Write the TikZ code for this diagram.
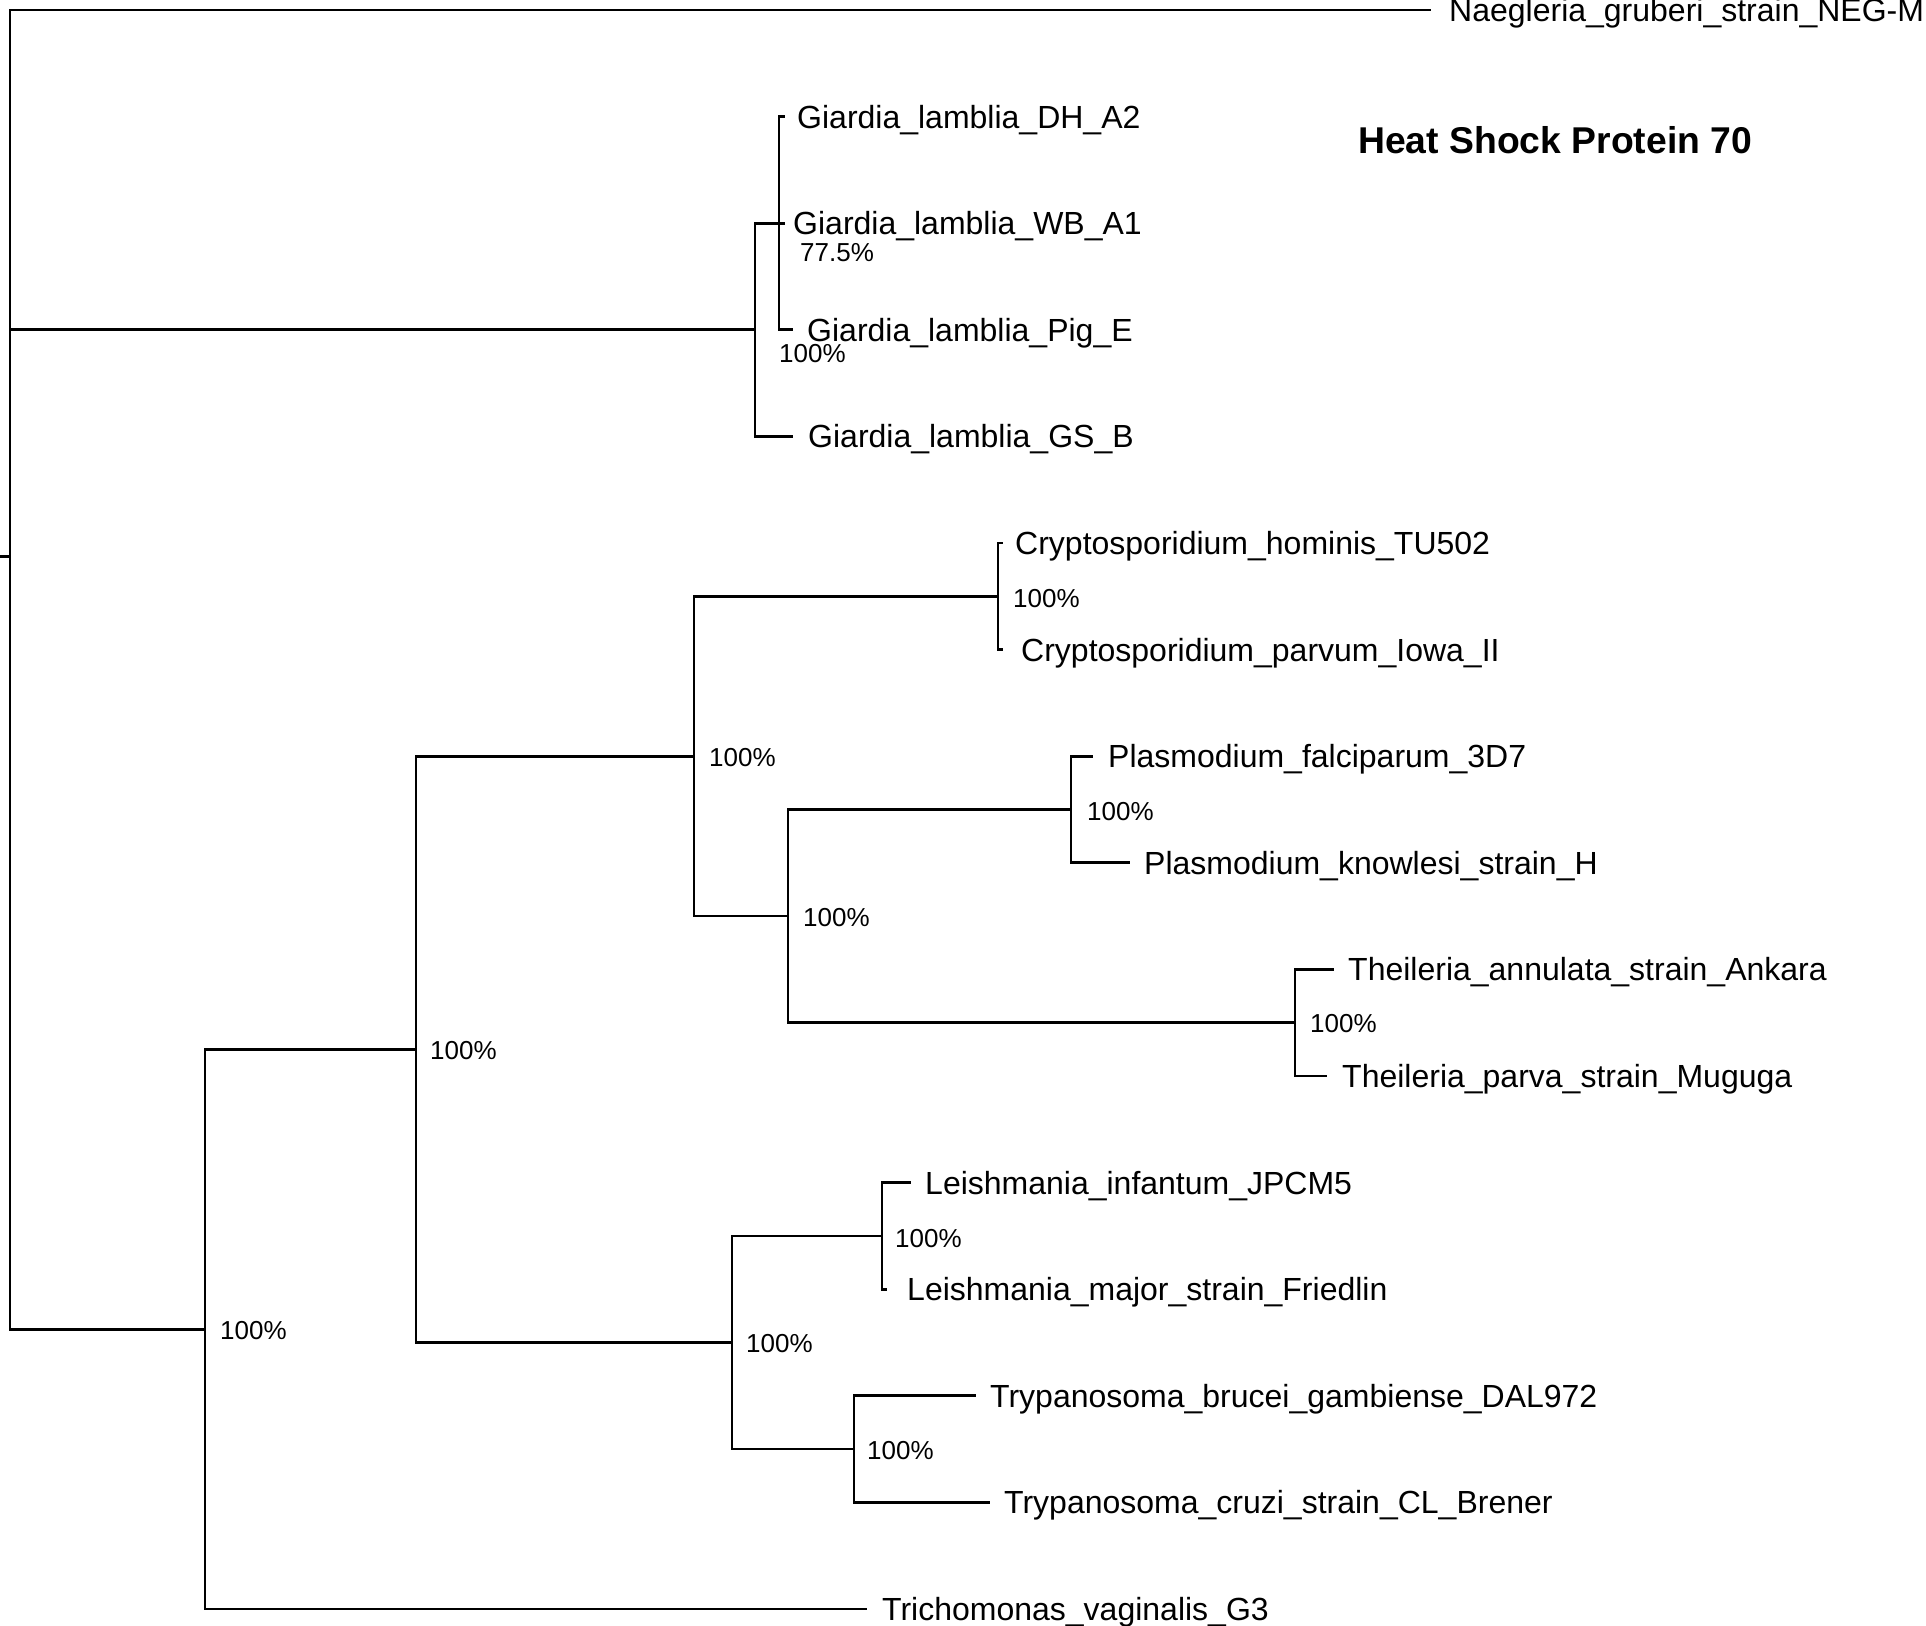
\documentclass[tikz,border=0pt]{standalone}
\usepackage{fontspec}
\setmainfont{Liberation Sans}
\begin{document}
\begin{tikzpicture}[x=1pt,y=-1pt,
  br/.style={line width=2.7pt, line join=miter, black},
  leaf/.style={anchor=base west, inner sep=0pt, font=\fontsize{32}{36}\selectfont, yshift=-11.4pt},
  boot/.style={anchor=base west, inner sep=0pt, font=\fontsize{26}{30}\selectfont, yshift=-9.3pt},
  ttl/.style={anchor=base west, inner sep=0pt, font=\fontsize{37.3}{42}\selectfont\bfseries, yshift=-13.3pt}]
\useasboundingbox (0,0) rectangle (1926,1625);
\clip (0,0) rectangle (1926,1625);
% internal nodes
\coordinate (rootstub) at (0,556.3);
\coordinate (root) at (10,556.3);
\coordinate (gia) at (755,329.8);
\coordinate (giaA) at (779,223.2);
\coordinate (low) at (205,1329.2);
\coordinate (alvkin) at (416,1049.4);
\coordinate (api) at (694,756.3);
\coordinate (cry) at (998,596.3);
\coordinate (pt) at (788,916.1);
\coordinate (pla) at (1071,809.5);
\coordinate (the) at (1295,1022.7);
\coordinate (kin) at (732,1342.5);
\coordinate (lei) at (882,1235.9);
\coordinate (try) at (854,1449.1);
% tips
\coordinate (tNae) at (1431,10);
\coordinate (tDH) at (785,116.6);
\coordinate (tWB) at (785,223.2);
\coordinate (tPig) at (793,329.8);
\coordinate (tGS) at (793,436.4);
\coordinate (tHom) at (1003,543);
\coordinate (tPar) at (1003,649.6);
\coordinate (tFal) at (1093,756.2);
\coordinate (tKno) at (1130,862.8);
\coordinate (tAnn) at (1334,969.4);
\coordinate (tPva) at (1327,1076);
\coordinate (tInf) at (911,1182.6);
\coordinate (tMaj) at (887,1289.2);
\coordinate (tBru) at (976,1395.8);
\coordinate (tCru) at (990,1502.4);
\coordinate (tTri) at (867,1609);
% leaf labels
\node[leaf] (lNae) at (1449,10) {Naegleria\_gruberi\_strain\_NEG-M};
\node[leaf] (lDH) at (797,116.6) {Giardia\_lamblia\_DH\_A2};
\node[leaf] (lWB) at (793,223.2) {Giardia\_lamblia\_WB\_A1};
\node[leaf] (lPig) at (807,329.8) {Giardia\_lamblia\_Pig\_E};
\node[leaf] (lGS) at (808,436.4) {Giardia\_lamblia\_GS\_B};
\node[leaf] (lHom) at (1015,543) {Cryptosporidium\_hominis\_TU502};
\node[leaf] (lPar) at (1021,649.6) {Cryptosporidium\_parvum\_Iowa\_II};
\node[leaf] (lFal) at (1108,756.2) {Plasmodium\_falciparum\_3D7};
\node[leaf] (lKno) at (1144,862.8) {Plasmodium\_knowlesi\_strain\_H};
\node[leaf] (lAnn) at (1348,969.4) {Theileria\_annulata\_strain\_Ankara};
\node[leaf] (lPva) at (1342,1076) {Theileria\_parva\_strain\_Muguga};
\node[leaf] (lInf) at (925,1182.6) {Leishmania\_infantum\_JPCM5};
\node[leaf] (lMaj) at (907,1289.2) {Leishmania\_major\_strain\_Friedlin};
\node[leaf] (lBru) at (990,1395.8) {Trypanosoma\_brucei\_gambiense\_DAL972};
\node[leaf] (lCru) at (1004,1502.4) {Trypanosoma\_cruzi\_strain\_CL\_Brener};
\node[leaf] (lTri) at (882,1609) {Trichomonas\_vaginalis\_G3};
% bootstrap labels
\node[boot] (bWB) at (800,252) {77.5\%};
\node[boot] (bGia) at (779,353) {100\%};
\node[boot] (bCry) at (1013,598) {100\%};
\node[boot] (bApi) at (709,757) {100\%};
\node[boot] (bPla) at (1087,811) {100\%};
\node[boot] (bPT) at (803,917) {100\%};
\node[boot] (bThe) at (1310,1023) {100\%};
\node[boot] (bAK) at (430,1050) {100\%};
\node[boot] (bLei) at (895,1238) {100\%};
\node[boot] (bKin) at (746,1343) {100\%};
\node[boot] (bTry) at (867,1450) {100\%};
\node[boot] (bLow) at (220,1330) {100\%};
% title
\node[ttl] (title) at (1358,140) {Heat Shock Protein 70};
% branches
\draw[br] (rootstub) -- (root);
\draw[br] (root) |- (tNae);
\draw[br] (root) |- (gia);
\draw[br] (root) |- (low);
\draw[br] (gia) |- (giaA);
\draw[br] (gia) |- (tGS);
\draw[br] (giaA) |- (tDH);
\draw[br] (giaA) -- (tWB);
\draw[br] (giaA) |- (tPig);
\draw[br] (low) |- (alvkin);
\draw[br] (low) |- (tTri);
\draw[br] (alvkin) |- (api);
\draw[br] (alvkin) |- (kin);
\draw[br] (api) |- (cry);
\draw[br] (api) |- (pt);
\draw[br] (cry) |- (tHom);
\draw[br] (cry) |- (tPar);
\draw[br] (pt) |- (pla);
\draw[br] (pt) |- (the);
\draw[br] (pla) |- (tFal);
\draw[br] (pla) |- (tKno);
\draw[br] (the) |- (tAnn);
\draw[br] (the) |- (tPva);
\draw[br] (kin) |- (lei);
\draw[br] (kin) |- (try);
\draw[br] (lei) |- (tInf);
\draw[br] (lei) |- (tMaj);
\draw[br] (try) |- (tBru);
\draw[br] (try) |- (tCru);
\end{tikzpicture}
\end{document}
